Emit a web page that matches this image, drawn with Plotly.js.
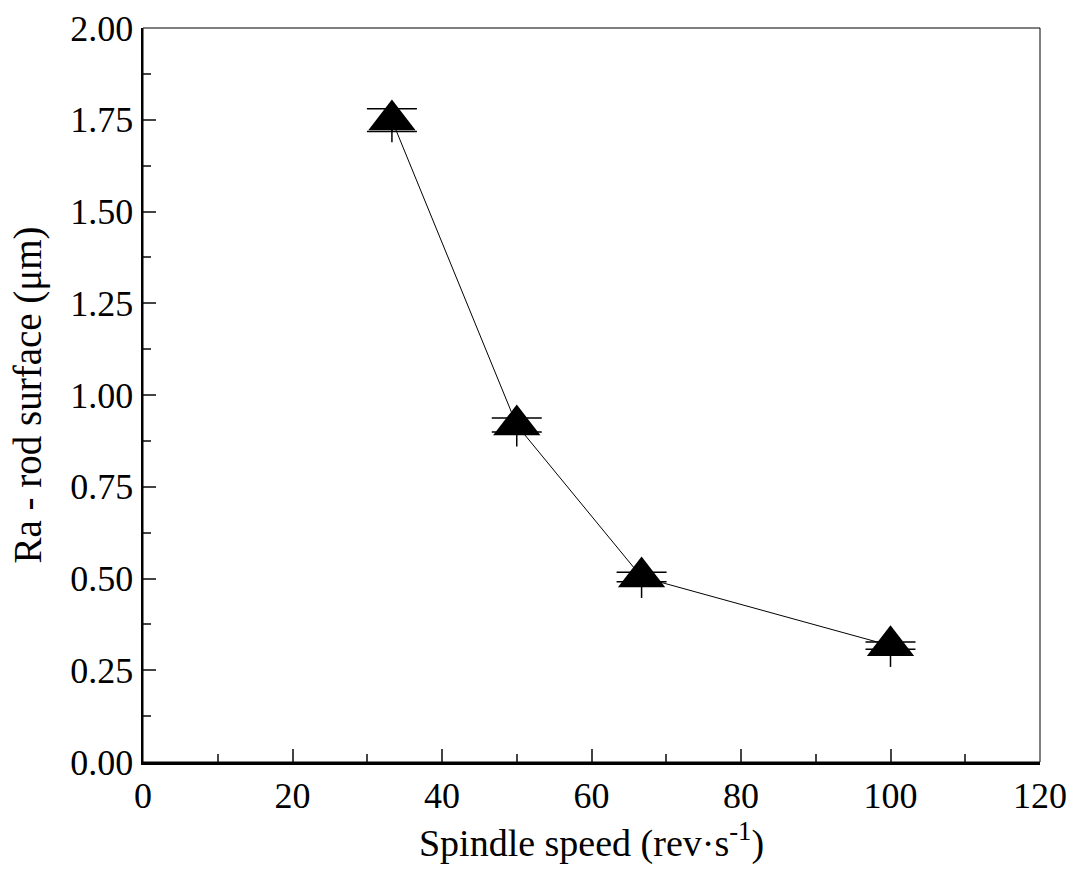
<!DOCTYPE html>
<html>
<head>
<meta charset="utf-8">
<script src="https://cdn.plot.ly/plotly-3.0.1.min.js"></script>
<style>html,body{margin:0;padding:0;background:#fff;}#chart{width:1079px;height:871px;}</style>
</head>
<body>
<div id="chart"></div>
<script>
const speed = [33.3, 50, 66.7, 100];
const ra = [1.749, 0.918, 0.504, 0.317];
const errCap = [0.031, 0.019, 0.013, 0.010];
const errLow = [0.06, 0.058, 0.057, 0.058];

const font = "'Liberation Serif', 'Times New Roman', serif";

const traces = [
  {
    x: speed, y: ra, type: 'scatter', mode: 'lines',
    line: {color: '#000', width: 1}, hoverinfo: 'skip', showlegend: false
  },
  {
    x: speed, y: ra, type: 'scatter', mode: 'markers',
    marker: {symbol: 'triangle-up', size: 0.1, color: 'rgba(0,0,0,0)'},
    error_y: {type: 'data', symmetric: false, array: speed.map(() => 0), arrayminus: errLow,
              color: '#000', thickness: 1.5, width: 0},
    showlegend: false
  },
  {
    x: speed, y: ra, type: 'scatter', mode: 'markers',
    marker: {symbol: 'triangle-up', size: 41, color: '#000'},
    error_y: {type: 'data', array: errCap, color: '#000', thickness: 1.5, width: 25},
    showlegend: false
  }
];

const layout = {
  width: 1079, height: 871,
  margin: {l: 143, r: 39, t: 28, b: 109},
  paper_bgcolor: '#fff', plot_bgcolor: '#fff',
  font: {family: font, color: '#000', size: 36},
  shapes: [{
    type: 'rect', xref: 'paper', yref: 'paper', x0: 0, x1: 1, y0: 0, y1: 1,
    line: {color: '#000', width: 1}, fillcolor: 'rgba(0,0,0,0)', layer: 'above'
  }],
  xaxis: {
    range: [0, 120], tick0: 0, dtick: 20, ticks: 'inside', ticklen: 13, tickwidth: 2,
    minor: {dtick: 10, ticks: 'inside', ticklen: 8, tickwidth: 2},
    showline: true, linewidth: 2.5, linecolor: '#000', mirror: false,
    showgrid: false, zeroline: false,
    tickfont: {family: font, size: 36},
    title: {text: 'Spindle speed (rev·s<sup>-1</sup>)', font: {family: font, size: 38}, standoff: 4}
  },
  yaxis: {
    range: [0, 2], tick0: 0, dtick: 0.25, tickformat: '.2f', ticks: 'inside', ticklen: 13, tickwidth: 2,
    minor: {dtick: 0.125, ticks: 'inside', ticklen: 8, tickwidth: 2},
    showline: true, linewidth: 2.5, linecolor: '#000', mirror: false,
    showgrid: false, zeroline: false,
    tickfont: {family: font, size: 36},
    title: {text: 'Ra - rod surface (μm)', font: {family: font, size: 39}, standoff: 17}
  }
};

Plotly.newPlot('chart', traces, layout, {displayModeBar: false, staticPlot: true});
</script>
</body>
</html>
